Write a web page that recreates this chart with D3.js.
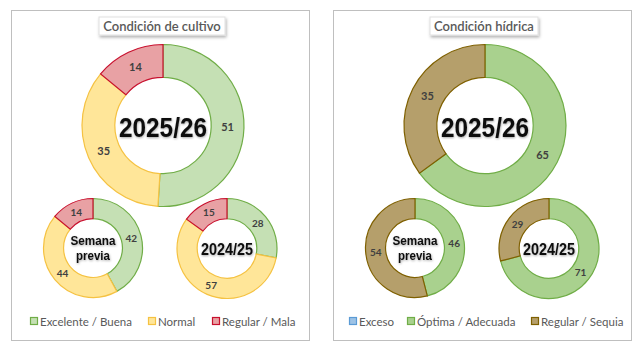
<!DOCTYPE html>
<html>
<head>
<meta charset="utf-8">
<script src="https://cdn.jsdelivr.net/npm/d3@7"></script>
<style>
  body { margin: 0; background: #fff; }
  svg { display: block; }
</style>
</head>
<body>
<div id="chart-area"></div>
<script>
// data
var cultivoCats = ["Excelente / Buena", "Normal", "Regular / Mala"];
var cultivoActual = [51, 35, 14];
var cultivoPrevia = [42, 44, 14];
var cultivoAnterior = [28, 57, 15];

var hidricaCats = ["Exceso", "Óptima / Adecuada", "Regular / Sequia"];
var hidricaActual = [0, 65, 35];
var hidricaPrevia = [0, 46, 54];
var hidricaAnterior = [0, 71, 29];

var centerLabels = ["2025/26", "Semana previa", "2024/25"];

var cultivoFill = ["#c5e0b4", "#ffe699", "#e8a1a4"];
var cultivoStroke = ["#70ad47", "#f5c242", "#c8102e"];
var hidricaFill = ["#9dc3e6", "#a9d18e", "#b59f6b"];
var hidricaStroke = ["#5b9bd5", "#70ad47", "#7f6000"];

var svg = d3.select("#chart-area")
    .append("svg")
    .attr("width", 640)
    .attr("height", 351);

var defs = svg.append("defs");
var f = defs.append("filter").attr("id", "shadow").attr("x", "-20%").attr("y", "-30%").attr("width", "140%").attr("height", "180%");
f.append("feDropShadow").attr("dx", 1).attr("dy", 2).attr("stdDeviation", 1.5).attr("flood-color", "#000").attr("flood-opacity", 0.3);
var g2 = defs.append("filter").attr("id", "glow").attr("x", "-20%").attr("y", "-30%").attr("width", "140%").attr("height", "160%");
g2.append("feDropShadow").attr("dx", 0.5).attr("dy", 1).attr("stdDeviation", 1).attr("flood-color", "#000").attr("flood-opacity", 0.35);

var pie = d3.pie().sort(null).value(function(d) { return d; });

function panel(x0, title, titleW, cats, series, fills, strokes, legendX) {
    var g = svg.append("g");
    g.append("rect")
        .attr("x", x0 + 0.5).attr("y", 10.5)
        .attr("width", 298).attr("height", 330)
        .attr("fill", "#fff").attr("stroke", "#bfbfbf");

    var cx = x0 + 151;
    // title box
    g.append("rect")
        .attr("x", cx - titleW / 2).attr("y", 17)
        .attr("width", titleW).attr("height", 18)
        .attr("fill", "#fff").attr("stroke", "#e0e0e0")
        .attr("filter", "url(#shadow)");
    g.append("text")
        .attr("x", cx).attr("y", 30.5)
        .attr("text-anchor", "middle")
        .attr("font-family", "Lato, 'Open Sans', sans-serif")
        .attr("font-size", 13)
        .attr("font-weight", 600)
        .attr("fill", "#595959")
        .text(title);

    var donuts = [
        {cx: cx + 1, cy: 125.5, r: 81, values: series[0], label: centerLabels[0]},
        {cx: x0 + 82, cy: 248, r: 49.5, values: series[1], label: centerLabels[1]},
        {cx: x0 + 216, cy: 248.5, r: 50, values: series[2], label: centerLabels[2]}
    ];

    donuts.forEach(function(d, k) {
        var inner = d.r * 0.595;
        var arc = d3.arc().innerRadius(inner).outerRadius(d.r);
        var labelArc = d3.arc().innerRadius((inner + d.r) / 2).outerRadius((inner + d.r) / 2);
        var dg = g.append("g").attr("transform", "translate(" + d.cx + "," + d.cy + ")");
        var arcs = pie(d.values);
        dg.selectAll("path")
            .data(arcs)
            .enter()
            .append("path")
            .attr("d", arc)
            .attr("fill", function(a, i) { return fills[i]; })
            .attr("stroke", function(a, i) { return strokes[i]; })
            .attr("stroke-width", 1.2);
        dg.selectAll("text.val")
            .data(arcs.filter(function(a) { return a.data > 0; }))
            .enter()
            .append("text")
            .attr("class", "val")
            .attr("transform", function(a) { return "translate(" + labelArc.centroid(a) + ")"; })
            .attr("text-anchor", "middle")
            .attr("dy", "0.35em")
            .attr("font-family", "Lato, 'Open Sans', sans-serif")
            .attr("font-weight", "bold")
            .attr("font-size", k === 0 ? 11 : 10)
            .attr("fill", "#404040")
            .text(function(a) { return a.data; });

        if (k === 0) {
            dg.append("text")
                .attr("y", 11)
                .attr("text-anchor", "middle")
                .attr("font-family", "'Liberation Sans', Arial, sans-serif")
                .attr("font-weight", "bold")
                .attr("font-size", 27)
                .attr("textLength", 88).attr("lengthAdjust", "spacingAndGlyphs")
                .attr("fill", "#111")
                .attr("filter", "url(#glow)")
                .text(d.label);
        } else if (k === 1) {
            var words = d.label.split(" ");
            dg.selectAll("text.ctr")
                .data(words)
                .enter()
                .append("text")
                .attr("class", "ctr")
                .attr("y", function(w, i) { return i === 0 ? -3 : 12; })
                .attr("text-anchor", "middle")
                .attr("font-family", "'Liberation Sans', Arial, sans-serif")
                .attr("font-weight", "bold")
                .attr("font-size", 13.5)
                .attr("textLength", function(w, i) { return i === 0 ? 45 : 34; })
                .attr("lengthAdjust", "spacingAndGlyphs")
                .attr("fill", "#111")
                .attr("filter", "url(#glow)")
                .text(function(w) { return w; });
        } else {
            dg.append("text")
                .attr("y", 6)
                .attr("text-anchor", "middle")
                .attr("font-family", "'Liberation Sans', Arial, sans-serif")
                .attr("font-weight", "bold")
                .attr("font-size", 16)
                .attr("textLength", 52).attr("lengthAdjust", "spacingAndGlyphs")
                .attr("fill", "#111")
                .attr("filter", "url(#glow)")
                .text(d.label);
        }
    });

    // legend
    var lg = g.selectAll("g.leg")
        .data(cats)
        .enter()
        .append("g")
        .attr("transform", function(c, i) { return "translate(" + (x0 + legendX[i]) + ",322)"; });
    lg.append("rect")
        .attr("x", 0.5).attr("y", -4.5)
        .attr("width", 7).attr("height", 7)
        .attr("fill", function(c, i) { return fills[i]; })
        .attr("stroke", function(c, i) { return strokes[i]; })
        .attr("stroke-width", 1.2);
    lg.append("text")
        .attr("x", 10).attr("y", 4)
        .attr("font-family", "Lato, 'Open Sans', sans-serif")
        .attr("font-size", 11.5)
        .attr("fill", "#595959")
        .text(function(c) { return c; });
}

panel(11, "Condición de cultivo", 126, cultivoCats,
      [cultivoActual, cultivoPrevia, cultivoAnterior], cultivoFill, cultivoStroke, [19, 137, 201]);
panel(333, "Condición hídrica", 108, hidricaCats,
      [hidricaActual, hidricaPrevia, hidricaAnterior], hidricaFill, hidricaStroke, [16, 74, 198]);
</script>
</body>
</html>
